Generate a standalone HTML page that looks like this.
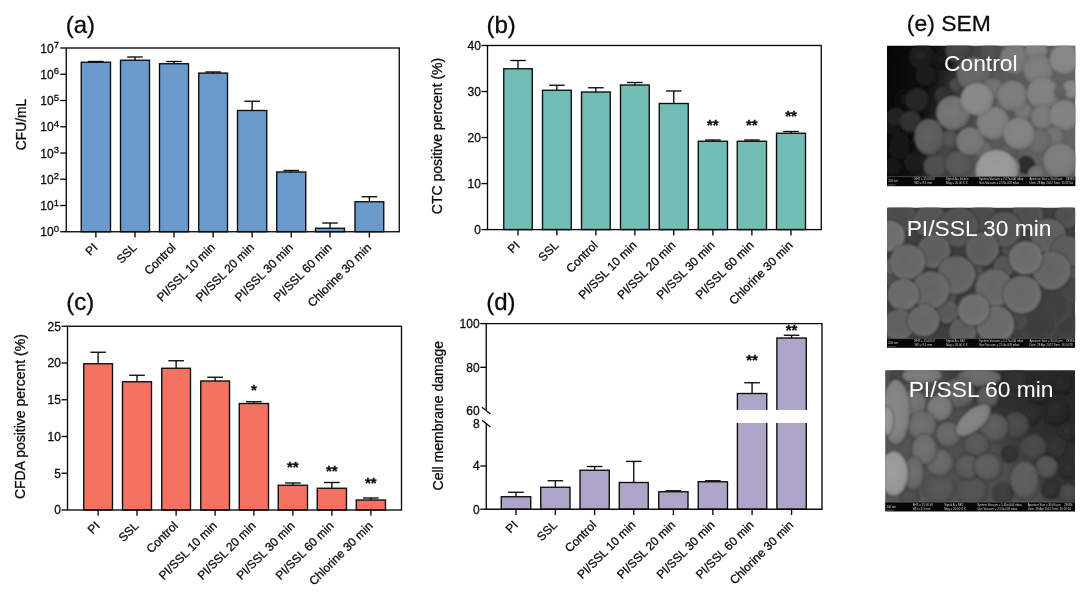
<!DOCTYPE html>
<html lang="en">
<head>
<meta charset="utf-8">
<title>Figure: PI/SSL disinfection results</title>
<style>
html,body{margin:0;padding:0;background:#fff;}
body{width:1080px;height:600px;overflow:hidden;}
svg{display:block;}
svg .semi text{font-size:2.9px;fill:#d8d8d8;stroke:none;}
svg text{font-family:"Liberation Sans", Arial, Helvetica, sans-serif;fill:#0a0a0a;stroke:#0a0a0a;stroke-width:0.28px;}
</style>
</head>
<body>
<svg width="1080" height="600" viewBox="0 0 1080 600">
<rect width="1080" height="600" fill="#fff"/>
<g id="chart-a">
<text x="65.7" y="32.6" font-size="24">(a)</text>
<line x1="95.88" y1="62.25" x2="95.88" y2="61.50" stroke="#0a0a0a" stroke-width="1.35"/>
<line x1="88.08" y1="61.50" x2="103.67" y2="61.50" stroke="#0a0a0a" stroke-width="1.35"/>
<rect x="81.25" y="62.25" width="29.25" height="169.50" fill="#6a9acb" stroke="#0a0a0a" stroke-width="1.35"/>
<line x1="135.00" y1="60.25" x2="135.00" y2="57.00" stroke="#0a0a0a" stroke-width="1.35"/>
<line x1="127.20" y1="57.00" x2="142.80" y2="57.00" stroke="#0a0a0a" stroke-width="1.35"/>
<rect x="120.50" y="60.25" width="29.00" height="171.50" fill="#6a9acb" stroke="#0a0a0a" stroke-width="1.35"/>
<line x1="174.00" y1="63.75" x2="174.00" y2="61.50" stroke="#0a0a0a" stroke-width="1.35"/>
<line x1="166.20" y1="61.50" x2="181.80" y2="61.50" stroke="#0a0a0a" stroke-width="1.35"/>
<rect x="159.50" y="63.75" width="29.00" height="168.00" fill="#6a9acb" stroke="#0a0a0a" stroke-width="1.35"/>
<line x1="213.12" y1="73.10" x2="213.12" y2="72.00" stroke="#0a0a0a" stroke-width="1.35"/>
<line x1="205.32" y1="72.00" x2="220.93" y2="72.00" stroke="#0a0a0a" stroke-width="1.35"/>
<rect x="198.75" y="73.10" width="28.75" height="158.65" fill="#6a9acb" stroke="#0a0a0a" stroke-width="1.35"/>
<line x1="252.12" y1="110.50" x2="252.12" y2="101.25" stroke="#0a0a0a" stroke-width="1.35"/>
<line x1="244.32" y1="101.25" x2="259.93" y2="101.25" stroke="#0a0a0a" stroke-width="1.35"/>
<rect x="237.50" y="110.50" width="29.25" height="121.25" fill="#6a9acb" stroke="#0a0a0a" stroke-width="1.35"/>
<line x1="291.25" y1="172.00" x2="291.25" y2="170.50" stroke="#0a0a0a" stroke-width="1.35"/>
<line x1="283.45" y1="170.50" x2="299.05" y2="170.50" stroke="#0a0a0a" stroke-width="1.35"/>
<rect x="276.75" y="172.00" width="29.00" height="59.75" fill="#6a9acb" stroke="#0a0a0a" stroke-width="1.35"/>
<line x1="330.00" y1="228.25" x2="330.00" y2="223.00" stroke="#0a0a0a" stroke-width="1.35"/>
<line x1="322.20" y1="223.00" x2="337.80" y2="223.00" stroke="#0a0a0a" stroke-width="1.35"/>
<rect x="315.50" y="228.25" width="29.00" height="3.50" fill="#6a9acb" stroke="#0a0a0a" stroke-width="1.35"/>
<line x1="369.38" y1="201.75" x2="369.38" y2="196.75" stroke="#0a0a0a" stroke-width="1.35"/>
<line x1="361.57" y1="196.75" x2="377.18" y2="196.75" stroke="#0a0a0a" stroke-width="1.35"/>
<rect x="355.00" y="201.75" width="28.75" height="30.00" fill="#6a9acb" stroke="#0a0a0a" stroke-width="1.35"/>
<rect x="66.25" y="48.0" width="333.0" height="183.75" fill="none" stroke="#0a0a0a" stroke-width="1.35"/>
<line x1="60.25" y1="231.75" x2="66.25" y2="231.75" stroke="#0a0a0a" stroke-width="1.35"/>
<text x="58.95" y="236.25" font-size="12" text-anchor="end">10<tspan font-size="9.5" dy="-4.3">0</tspan></text>
<line x1="60.25" y1="205.50" x2="66.25" y2="205.50" stroke="#0a0a0a" stroke-width="1.35"/>
<text x="58.95" y="210.00" font-size="12" text-anchor="end">10<tspan font-size="9.5" dy="-4.3">1</tspan></text>
<line x1="60.25" y1="179.25" x2="66.25" y2="179.25" stroke="#0a0a0a" stroke-width="1.35"/>
<text x="58.95" y="183.75" font-size="12" text-anchor="end">10<tspan font-size="9.5" dy="-4.3">2</tspan></text>
<line x1="60.25" y1="153.00" x2="66.25" y2="153.00" stroke="#0a0a0a" stroke-width="1.35"/>
<text x="58.95" y="157.50" font-size="12" text-anchor="end">10<tspan font-size="9.5" dy="-4.3">3</tspan></text>
<line x1="60.25" y1="126.75" x2="66.25" y2="126.75" stroke="#0a0a0a" stroke-width="1.35"/>
<text x="58.95" y="131.25" font-size="12" text-anchor="end">10<tspan font-size="9.5" dy="-4.3">4</tspan></text>
<line x1="60.25" y1="100.50" x2="66.25" y2="100.50" stroke="#0a0a0a" stroke-width="1.35"/>
<text x="58.95" y="105.00" font-size="12" text-anchor="end">10<tspan font-size="9.5" dy="-4.3">5</tspan></text>
<line x1="60.25" y1="74.25" x2="66.25" y2="74.25" stroke="#0a0a0a" stroke-width="1.35"/>
<text x="58.95" y="78.75" font-size="12" text-anchor="end">10<tspan font-size="9.5" dy="-4.3">6</tspan></text>
<line x1="60.25" y1="48.00" x2="66.25" y2="48.00" stroke="#0a0a0a" stroke-width="1.35"/>
<text x="58.95" y="52.50" font-size="12" text-anchor="end">10<tspan font-size="9.5" dy="-4.3">7</tspan></text>
<line x1="95.88" y1="231.75" x2="95.88" y2="237.55" stroke="#0a0a0a" stroke-width="1.35"/>
<text x="98.38" y="248.25" font-size="12" text-anchor="end" transform="rotate(-45 98.38 248.25)">PI</text>
<line x1="135.00" y1="231.75" x2="135.00" y2="237.55" stroke="#0a0a0a" stroke-width="1.35"/>
<text x="137.50" y="248.25" font-size="12" text-anchor="end" transform="rotate(-45 137.50 248.25)">SSL</text>
<line x1="174.00" y1="231.75" x2="174.00" y2="237.55" stroke="#0a0a0a" stroke-width="1.35"/>
<text x="176.50" y="248.25" font-size="12" text-anchor="end" transform="rotate(-45 176.50 248.25)">Control</text>
<line x1="213.12" y1="231.75" x2="213.12" y2="237.55" stroke="#0a0a0a" stroke-width="1.35"/>
<text x="215.62" y="248.25" font-size="12" text-anchor="end" transform="rotate(-45 215.62 248.25)">PI/SSL 10 min</text>
<line x1="252.12" y1="231.75" x2="252.12" y2="237.55" stroke="#0a0a0a" stroke-width="1.35"/>
<text x="254.62" y="248.25" font-size="12" text-anchor="end" transform="rotate(-45 254.62 248.25)">PI/SSL 20 min</text>
<line x1="291.25" y1="231.75" x2="291.25" y2="237.55" stroke="#0a0a0a" stroke-width="1.35"/>
<text x="293.75" y="248.25" font-size="12" text-anchor="end" transform="rotate(-45 293.75 248.25)">PI/SSL 30 min</text>
<line x1="330.00" y1="231.75" x2="330.00" y2="237.55" stroke="#0a0a0a" stroke-width="1.35"/>
<text x="332.50" y="248.25" font-size="12" text-anchor="end" transform="rotate(-45 332.50 248.25)">PI/SSL 60 min</text>
<line x1="369.38" y1="231.75" x2="369.38" y2="237.55" stroke="#0a0a0a" stroke-width="1.35"/>
<text x="371.88" y="248.25" font-size="12" text-anchor="end" transform="rotate(-45 371.88 248.25)">Chlorine 30 min</text>
<text x="25.5" y="124.5" font-size="13.8" text-anchor="middle" transform="rotate(-90 25.5 124.5)">CFU/mL</text>
</g>
<g id="chart-b">
<text x="486.5" y="33.2" font-size="24">(b)</text>
<line x1="518.00" y1="68.75" x2="518.00" y2="60.50" stroke="#0a0a0a" stroke-width="1.35"/>
<line x1="510.20" y1="60.50" x2="525.80" y2="60.50" stroke="#0a0a0a" stroke-width="1.35"/>
<rect x="503.75" y="68.75" width="28.50" height="160.85" fill="#72bcb6" stroke="#0a0a0a" stroke-width="1.35"/>
<line x1="556.88" y1="90.25" x2="556.88" y2="85.25" stroke="#0a0a0a" stroke-width="1.35"/>
<line x1="549.08" y1="85.25" x2="564.67" y2="85.25" stroke="#0a0a0a" stroke-width="1.35"/>
<rect x="542.50" y="90.25" width="28.75" height="139.35" fill="#72bcb6" stroke="#0a0a0a" stroke-width="1.35"/>
<line x1="595.88" y1="92.00" x2="595.88" y2="87.75" stroke="#0a0a0a" stroke-width="1.35"/>
<line x1="588.08" y1="87.75" x2="603.67" y2="87.75" stroke="#0a0a0a" stroke-width="1.35"/>
<rect x="581.50" y="92.00" width="28.75" height="137.60" fill="#72bcb6" stroke="#0a0a0a" stroke-width="1.35"/>
<line x1="634.88" y1="85.00" x2="634.88" y2="82.50" stroke="#0a0a0a" stroke-width="1.35"/>
<line x1="627.08" y1="82.50" x2="642.67" y2="82.50" stroke="#0a0a0a" stroke-width="1.35"/>
<rect x="620.50" y="85.00" width="28.75" height="144.60" fill="#72bcb6" stroke="#0a0a0a" stroke-width="1.35"/>
<line x1="673.75" y1="103.50" x2="673.75" y2="91.00" stroke="#0a0a0a" stroke-width="1.35"/>
<line x1="665.95" y1="91.00" x2="681.55" y2="91.00" stroke="#0a0a0a" stroke-width="1.35"/>
<rect x="659.25" y="103.50" width="29.00" height="126.10" fill="#72bcb6" stroke="#0a0a0a" stroke-width="1.35"/>
<line x1="712.88" y1="141.25" x2="712.88" y2="140.00" stroke="#0a0a0a" stroke-width="1.35"/>
<line x1="705.08" y1="140.00" x2="720.67" y2="140.00" stroke="#0a0a0a" stroke-width="1.35"/>
<rect x="698.25" y="141.25" width="29.25" height="88.35" fill="#72bcb6" stroke="#0a0a0a" stroke-width="1.35"/>
<line x1="751.88" y1="141.25" x2="751.88" y2="140.00" stroke="#0a0a0a" stroke-width="1.35"/>
<line x1="744.08" y1="140.00" x2="759.67" y2="140.00" stroke="#0a0a0a" stroke-width="1.35"/>
<rect x="737.25" y="141.25" width="29.25" height="88.35" fill="#72bcb6" stroke="#0a0a0a" stroke-width="1.35"/>
<line x1="791.00" y1="133.25" x2="791.00" y2="131.50" stroke="#0a0a0a" stroke-width="1.35"/>
<line x1="783.20" y1="131.50" x2="798.80" y2="131.50" stroke="#0a0a0a" stroke-width="1.35"/>
<rect x="776.50" y="133.25" width="29.00" height="96.35" fill="#72bcb6" stroke="#0a0a0a" stroke-width="1.35"/>
<rect x="487.5" y="45.5" width="333.75" height="184.1" fill="none" stroke="#0a0a0a" stroke-width="1.35"/>
<line x1="481.50" y1="45.50" x2="487.50" y2="45.50" stroke="#0a0a0a" stroke-width="1.35"/>
<text x="480.90" y="49.80" font-size="12" text-anchor="end">40</text>
<line x1="481.50" y1="91.53" x2="487.50" y2="91.53" stroke="#0a0a0a" stroke-width="1.35"/>
<text x="480.90" y="95.83" font-size="12" text-anchor="end">30</text>
<line x1="481.50" y1="137.55" x2="487.50" y2="137.55" stroke="#0a0a0a" stroke-width="1.35"/>
<text x="480.90" y="141.85" font-size="12" text-anchor="end">20</text>
<line x1="481.50" y1="183.57" x2="487.50" y2="183.57" stroke="#0a0a0a" stroke-width="1.35"/>
<text x="480.90" y="187.88" font-size="12" text-anchor="end">10</text>
<line x1="481.50" y1="229.60" x2="487.50" y2="229.60" stroke="#0a0a0a" stroke-width="1.35"/>
<text x="480.90" y="233.90" font-size="12" text-anchor="end">0</text>
<line x1="518.00" y1="229.60" x2="518.00" y2="235.40" stroke="#0a0a0a" stroke-width="1.35"/>
<text x="520.50" y="246.10" font-size="12" text-anchor="end" transform="rotate(-45 520.50 246.10)">PI</text>
<line x1="556.88" y1="229.60" x2="556.88" y2="235.40" stroke="#0a0a0a" stroke-width="1.35"/>
<text x="559.38" y="246.10" font-size="12" text-anchor="end" transform="rotate(-45 559.38 246.10)">SSL</text>
<line x1="595.88" y1="229.60" x2="595.88" y2="235.40" stroke="#0a0a0a" stroke-width="1.35"/>
<text x="598.38" y="246.10" font-size="12" text-anchor="end" transform="rotate(-45 598.38 246.10)">Control</text>
<line x1="634.88" y1="229.60" x2="634.88" y2="235.40" stroke="#0a0a0a" stroke-width="1.35"/>
<text x="637.38" y="246.10" font-size="12" text-anchor="end" transform="rotate(-45 637.38 246.10)">PI/SSL 10 min</text>
<line x1="673.75" y1="229.60" x2="673.75" y2="235.40" stroke="#0a0a0a" stroke-width="1.35"/>
<text x="676.25" y="246.10" font-size="12" text-anchor="end" transform="rotate(-45 676.25 246.10)">PI/SSL 20 min</text>
<line x1="712.88" y1="229.60" x2="712.88" y2="235.40" stroke="#0a0a0a" stroke-width="1.35"/>
<text x="715.38" y="246.10" font-size="12" text-anchor="end" transform="rotate(-45 715.38 246.10)">PI/SSL 30 min</text>
<line x1="751.88" y1="229.60" x2="751.88" y2="235.40" stroke="#0a0a0a" stroke-width="1.35"/>
<text x="754.38" y="246.10" font-size="12" text-anchor="end" transform="rotate(-45 754.38 246.10)">PI/SSL 60 min</text>
<line x1="791.00" y1="229.60" x2="791.00" y2="235.40" stroke="#0a0a0a" stroke-width="1.35"/>
<text x="793.50" y="246.10" font-size="12" text-anchor="end" transform="rotate(-45 793.50 246.10)">Chlorine 30 min</text>
<text x="442.2" y="136" font-size="14" text-anchor="middle" transform="rotate(-90 442.2 136)">CTC positive percent (%)</text>
<text x="712.88" y="129.60" font-size="15" font-weight="bold" text-anchor="middle">**</text>
<text x="751.88" y="129.60" font-size="15" font-weight="bold" text-anchor="middle">**</text>
<text x="791.00" y="121.40" font-size="15" font-weight="bold" text-anchor="middle">**</text>
</g>
<g id="chart-c">
<text x="66.2" y="310.0" font-size="24">(c)</text>
<line x1="98.12" y1="363.75" x2="98.12" y2="352.25" stroke="#0a0a0a" stroke-width="1.35"/>
<line x1="90.33" y1="352.25" x2="105.92" y2="352.25" stroke="#0a0a0a" stroke-width="1.35"/>
<rect x="83.75" y="363.75" width="28.75" height="146.25" fill="#f37261" stroke="#0a0a0a" stroke-width="1.35"/>
<line x1="137.00" y1="381.75" x2="137.00" y2="375.25" stroke="#0a0a0a" stroke-width="1.35"/>
<line x1="129.20" y1="375.25" x2="144.80" y2="375.25" stroke="#0a0a0a" stroke-width="1.35"/>
<rect x="122.50" y="381.75" width="29.00" height="128.25" fill="#f37261" stroke="#0a0a0a" stroke-width="1.35"/>
<line x1="176.12" y1="368.25" x2="176.12" y2="360.75" stroke="#0a0a0a" stroke-width="1.35"/>
<line x1="168.32" y1="360.75" x2="183.93" y2="360.75" stroke="#0a0a0a" stroke-width="1.35"/>
<rect x="161.75" y="368.25" width="28.75" height="141.75" fill="#f37261" stroke="#0a0a0a" stroke-width="1.35"/>
<line x1="215.12" y1="381.00" x2="215.12" y2="377.25" stroke="#0a0a0a" stroke-width="1.35"/>
<line x1="207.32" y1="377.25" x2="222.93" y2="377.25" stroke="#0a0a0a" stroke-width="1.35"/>
<rect x="200.75" y="381.00" width="28.75" height="129.00" fill="#f37261" stroke="#0a0a0a" stroke-width="1.35"/>
<line x1="253.88" y1="403.50" x2="253.88" y2="401.75" stroke="#0a0a0a" stroke-width="1.35"/>
<line x1="246.07" y1="401.75" x2="261.68" y2="401.75" stroke="#0a0a0a" stroke-width="1.35"/>
<rect x="239.25" y="403.50" width="29.25" height="106.50" fill="#f37261" stroke="#0a0a0a" stroke-width="1.35"/>
<line x1="292.88" y1="485.25" x2="292.88" y2="483.00" stroke="#0a0a0a" stroke-width="1.35"/>
<line x1="285.07" y1="483.00" x2="300.68" y2="483.00" stroke="#0a0a0a" stroke-width="1.35"/>
<rect x="278.25" y="485.25" width="29.25" height="24.75" fill="#f37261" stroke="#0a0a0a" stroke-width="1.35"/>
<line x1="331.88" y1="488.25" x2="331.88" y2="482.50" stroke="#0a0a0a" stroke-width="1.35"/>
<line x1="324.07" y1="482.50" x2="339.68" y2="482.50" stroke="#0a0a0a" stroke-width="1.35"/>
<rect x="317.25" y="488.25" width="29.25" height="21.75" fill="#f37261" stroke="#0a0a0a" stroke-width="1.35"/>
<line x1="370.88" y1="500.00" x2="370.88" y2="498.00" stroke="#0a0a0a" stroke-width="1.35"/>
<line x1="363.07" y1="498.00" x2="378.68" y2="498.00" stroke="#0a0a0a" stroke-width="1.35"/>
<rect x="356.25" y="500.00" width="29.25" height="10.00" fill="#f37261" stroke="#0a0a0a" stroke-width="1.35"/>
<rect x="67.5" y="326.25" width="334.0" height="183.75" fill="none" stroke="#0a0a0a" stroke-width="1.35"/>
<line x1="61.50" y1="326.25" x2="67.50" y2="326.25" stroke="#0a0a0a" stroke-width="1.35"/>
<text x="60.90" y="330.55" font-size="12" text-anchor="end">25</text>
<line x1="61.50" y1="363.00" x2="67.50" y2="363.00" stroke="#0a0a0a" stroke-width="1.35"/>
<text x="60.90" y="367.30" font-size="12" text-anchor="end">20</text>
<line x1="61.50" y1="399.75" x2="67.50" y2="399.75" stroke="#0a0a0a" stroke-width="1.35"/>
<text x="60.90" y="404.05" font-size="12" text-anchor="end">15</text>
<line x1="61.50" y1="436.50" x2="67.50" y2="436.50" stroke="#0a0a0a" stroke-width="1.35"/>
<text x="60.90" y="440.80" font-size="12" text-anchor="end">10</text>
<line x1="61.50" y1="473.25" x2="67.50" y2="473.25" stroke="#0a0a0a" stroke-width="1.35"/>
<text x="60.90" y="477.55" font-size="12" text-anchor="end">5</text>
<line x1="61.50" y1="510.00" x2="67.50" y2="510.00" stroke="#0a0a0a" stroke-width="1.35"/>
<text x="60.90" y="514.30" font-size="12" text-anchor="end">0</text>
<line x1="98.12" y1="510.00" x2="98.12" y2="515.80" stroke="#0a0a0a" stroke-width="1.35"/>
<text x="100.62" y="526.50" font-size="12" text-anchor="end" transform="rotate(-45 100.62 526.50)">PI</text>
<line x1="137.00" y1="510.00" x2="137.00" y2="515.80" stroke="#0a0a0a" stroke-width="1.35"/>
<text x="139.50" y="526.50" font-size="12" text-anchor="end" transform="rotate(-45 139.50 526.50)">SSL</text>
<line x1="176.12" y1="510.00" x2="176.12" y2="515.80" stroke="#0a0a0a" stroke-width="1.35"/>
<text x="178.62" y="526.50" font-size="12" text-anchor="end" transform="rotate(-45 178.62 526.50)">Control</text>
<line x1="215.12" y1="510.00" x2="215.12" y2="515.80" stroke="#0a0a0a" stroke-width="1.35"/>
<text x="217.62" y="526.50" font-size="12" text-anchor="end" transform="rotate(-45 217.62 526.50)">PI/SSL 10 min</text>
<line x1="253.88" y1="510.00" x2="253.88" y2="515.80" stroke="#0a0a0a" stroke-width="1.35"/>
<text x="256.38" y="526.50" font-size="12" text-anchor="end" transform="rotate(-45 256.38 526.50)">PI/SSL 20 min</text>
<line x1="292.88" y1="510.00" x2="292.88" y2="515.80" stroke="#0a0a0a" stroke-width="1.35"/>
<text x="295.38" y="526.50" font-size="12" text-anchor="end" transform="rotate(-45 295.38 526.50)">PI/SSL 30 min</text>
<line x1="331.88" y1="510.00" x2="331.88" y2="515.80" stroke="#0a0a0a" stroke-width="1.35"/>
<text x="334.38" y="526.50" font-size="12" text-anchor="end" transform="rotate(-45 334.38 526.50)">PI/SSL 60 min</text>
<line x1="370.88" y1="510.00" x2="370.88" y2="515.80" stroke="#0a0a0a" stroke-width="1.35"/>
<text x="373.38" y="526.50" font-size="12" text-anchor="end" transform="rotate(-45 373.38 526.50)">Chlorine 30 min</text>
<text x="25.2" y="416.6" font-size="14" text-anchor="middle" transform="rotate(-90 25.2 416.6)">CFDA positive percent (%)</text>
<text x="253.88" y="394.60" font-size="15" font-weight="bold" text-anchor="middle">*</text>
<text x="292.88" y="472.10" font-size="15" font-weight="bold" text-anchor="middle">**</text>
<text x="331.88" y="475.90" font-size="15" font-weight="bold" text-anchor="middle">**</text>
<text x="370.88" y="487.60" font-size="15" font-weight="bold" text-anchor="middle">**</text>
</g>
<g id="chart-d">
<text x="486.2" y="309.5" font-size="24">(d)</text>
<line x1="516.00" y1="496.75" x2="516.00" y2="492.25" stroke="#0a0a0a" stroke-width="1.35"/>
<line x1="508.20" y1="492.25" x2="523.80" y2="492.25" stroke="#0a0a0a" stroke-width="1.35"/>
<rect x="501.25" y="496.75" width="29.50" height="12.45" fill="#afa5c9" stroke="#0a0a0a" stroke-width="1.35"/>
<line x1="555.38" y1="487.25" x2="555.38" y2="480.75" stroke="#0a0a0a" stroke-width="1.35"/>
<line x1="547.58" y1="480.75" x2="563.17" y2="480.75" stroke="#0a0a0a" stroke-width="1.35"/>
<rect x="540.75" y="487.25" width="29.25" height="21.95" fill="#afa5c9" stroke="#0a0a0a" stroke-width="1.35"/>
<line x1="594.62" y1="470.25" x2="594.62" y2="466.50" stroke="#0a0a0a" stroke-width="1.35"/>
<line x1="586.83" y1="466.50" x2="602.42" y2="466.50" stroke="#0a0a0a" stroke-width="1.35"/>
<rect x="580.00" y="470.25" width="29.25" height="38.95" fill="#afa5c9" stroke="#0a0a0a" stroke-width="1.35"/>
<line x1="633.75" y1="482.50" x2="633.75" y2="461.40" stroke="#0a0a0a" stroke-width="1.35"/>
<line x1="625.95" y1="461.40" x2="641.55" y2="461.40" stroke="#0a0a0a" stroke-width="1.35"/>
<rect x="619.25" y="482.50" width="29.00" height="26.70" fill="#afa5c9" stroke="#0a0a0a" stroke-width="1.35"/>
<line x1="673.38" y1="491.75" x2="673.38" y2="490.75" stroke="#0a0a0a" stroke-width="1.35"/>
<line x1="665.58" y1="490.75" x2="681.17" y2="490.75" stroke="#0a0a0a" stroke-width="1.35"/>
<rect x="658.75" y="491.75" width="29.25" height="17.45" fill="#afa5c9" stroke="#0a0a0a" stroke-width="1.35"/>
<line x1="712.88" y1="481.75" x2="712.88" y2="480.75" stroke="#0a0a0a" stroke-width="1.35"/>
<line x1="705.08" y1="480.75" x2="720.67" y2="480.75" stroke="#0a0a0a" stroke-width="1.35"/>
<rect x="698.25" y="481.75" width="29.25" height="27.45" fill="#afa5c9" stroke="#0a0a0a" stroke-width="1.35"/>
<line x1="752.08" y1="393.50" x2="752.08" y2="382.75" stroke="#0a0a0a" stroke-width="1.35"/>
<line x1="744.28" y1="382.75" x2="759.88" y2="382.75" stroke="#0a0a0a" stroke-width="1.35"/>
<rect x="737.40" y="393.50" width="29.35" height="115.70" fill="#afa5c9" stroke="#0a0a0a" stroke-width="1.35"/>
<line x1="791.58" y1="338.00" x2="791.58" y2="335.25" stroke="#0a0a0a" stroke-width="1.35"/>
<line x1="783.78" y1="335.25" x2="799.38" y2="335.25" stroke="#0a0a0a" stroke-width="1.35"/>
<rect x="776.90" y="338.00" width="29.35" height="171.20" fill="#afa5c9" stroke="#0a0a0a" stroke-width="1.35"/>
<rect x="730" y="410" width="85" height="13" fill="#fff"/>
<path d="M486.25 410 V323.6 H822.0 V509.2 H486.25 V423.6" fill="none" stroke="#0a0a0a" stroke-width="1.35"/>
<path d="M482 407.2 L490.5 414 M482 420.2 L490.5 427" fill="none" stroke="#0a0a0a" stroke-width="1.35"/>
<line x1="480.25" y1="323.60" x2="486.25" y2="323.60" stroke="#0a0a0a" stroke-width="1.35"/>
<text x="479.65" y="327.90" font-size="12" text-anchor="end">100</text>
<line x1="480.25" y1="367.30" x2="486.25" y2="367.30" stroke="#0a0a0a" stroke-width="1.35"/>
<text x="479.65" y="371.60" font-size="12" text-anchor="end">80</text>
<line x1="480.25" y1="509.20" x2="486.25" y2="509.20" stroke="#0a0a0a" stroke-width="1.35"/>
<text x="479.65" y="513.50" font-size="12" text-anchor="end">0</text>
<line x1="480.25" y1="466.00" x2="486.25" y2="466.00" stroke="#0a0a0a" stroke-width="1.35"/>
<text x="479.65" y="470.30" font-size="12" text-anchor="end">4</text>
<text x="479.6" y="415" font-size="12" text-anchor="end">60</text>
<text x="479.6" y="427.6" font-size="12" text-anchor="end">8</text>
<line x1="516.00" y1="509.20" x2="516.00" y2="515.00" stroke="#0a0a0a" stroke-width="1.35"/>
<text x="518.50" y="525.70" font-size="12" text-anchor="end" transform="rotate(-45 518.50 525.70)">PI</text>
<line x1="555.38" y1="509.20" x2="555.38" y2="515.00" stroke="#0a0a0a" stroke-width="1.35"/>
<text x="557.88" y="525.70" font-size="12" text-anchor="end" transform="rotate(-45 557.88 525.70)">SSL</text>
<line x1="594.62" y1="509.20" x2="594.62" y2="515.00" stroke="#0a0a0a" stroke-width="1.35"/>
<text x="597.12" y="525.70" font-size="12" text-anchor="end" transform="rotate(-45 597.12 525.70)">Control</text>
<line x1="633.75" y1="509.20" x2="633.75" y2="515.00" stroke="#0a0a0a" stroke-width="1.35"/>
<text x="636.25" y="525.70" font-size="12" text-anchor="end" transform="rotate(-45 636.25 525.70)">PI/SSL 10 min</text>
<line x1="673.38" y1="509.20" x2="673.38" y2="515.00" stroke="#0a0a0a" stroke-width="1.35"/>
<text x="675.88" y="525.70" font-size="12" text-anchor="end" transform="rotate(-45 675.88 525.70)">PI/SSL 20 min</text>
<line x1="712.88" y1="509.20" x2="712.88" y2="515.00" stroke="#0a0a0a" stroke-width="1.35"/>
<text x="715.38" y="525.70" font-size="12" text-anchor="end" transform="rotate(-45 715.38 525.70)">PI/SSL 30 min</text>
<line x1="752.08" y1="509.20" x2="752.08" y2="515.00" stroke="#0a0a0a" stroke-width="1.35"/>
<text x="754.58" y="525.70" font-size="12" text-anchor="end" transform="rotate(-45 754.58 525.70)">PI/SSL 60 min</text>
<line x1="791.58" y1="509.20" x2="791.58" y2="515.00" stroke="#0a0a0a" stroke-width="1.35"/>
<text x="794.08" y="525.70" font-size="12" text-anchor="end" transform="rotate(-45 794.08 525.70)">Chlorine 30 min</text>
<text x="443.0" y="415.7" font-size="14" text-anchor="middle" transform="rotate(-90 443.0 415.7)">Cell membrane damage</text>
<text x="752.08" y="364.60" font-size="15" font-weight="bold" text-anchor="middle">**</text>
<text x="791.58" y="335.10" font-size="15" font-weight="bold" text-anchor="middle">**</text>
</g>
<g id="sem">
<text x="906.8" y="31.2" font-size="22.9">(e) SEM</text>
<defs><filter id="soft" x="-5%" y="-5%" width="110%" height="110%"><feGaussianBlur stdDeviation="0.95"/></filter>
<linearGradient id="bg1" x1="0" y1="0" x2="1" y2="0.15"><stop offset="0" stop-color="#050505"/><stop offset="0.25" stop-color="#101010"/><stop offset="0.45" stop-color="#404040"/><stop offset="0.6" stop-color="#585858"/><stop offset="1" stop-color="#646464"/></linearGradient>
<linearGradient id="bg3" x1="0" y1="0.75" x2="1" y2="0.1"><stop offset="0" stop-color="#585858"/><stop offset="0.5" stop-color="#4c4c4c"/><stop offset="0.66" stop-color="#303030"/><stop offset="1" stop-color="#262626"/></linearGradient>
<radialGradient id="ga30" cx="0.46" cy="0.44" r="0.56"><stop offset="0" stop-color="#212121"/><stop offset="0.7" stop-color="#1e1e1e"/><stop offset="1" stop-color="#121212"/></radialGradient><radialGradient id="ga24" cx="0.46" cy="0.44" r="0.56"><stop offset="0" stop-color="#1b1b1b"/><stop offset="0.7" stop-color="#181818"/><stop offset="1" stop-color="#0c0c0c"/></radialGradient><radialGradient id="ga26" cx="0.46" cy="0.44" r="0.56"><stop offset="0" stop-color="#1d1d1d"/><stop offset="0.7" stop-color="#1a1a1a"/><stop offset="1" stop-color="#0e0e0e"/></radialGradient><radialGradient id="ga16" cx="0.46" cy="0.44" r="0.56"><stop offset="0" stop-color="#131313"/><stop offset="0.7" stop-color="#101010"/><stop offset="1" stop-color="#040404"/></radialGradient><radialGradient id="ga20" cx="0.46" cy="0.44" r="0.56"><stop offset="0" stop-color="#171717"/><stop offset="0.7" stop-color="#141414"/><stop offset="1" stop-color="#080808"/></radialGradient><radialGradient id="ga18" cx="0.46" cy="0.44" r="0.56"><stop offset="0" stop-color="#151515"/><stop offset="0.7" stop-color="#121212"/><stop offset="1" stop-color="#060606"/></radialGradient><radialGradient id="ga22" cx="0.46" cy="0.44" r="0.56"><stop offset="0" stop-color="#191919"/><stop offset="0.7" stop-color="#161616"/><stop offset="1" stop-color="#0a0a0a"/></radialGradient><radialGradient id="ga28" cx="0.46" cy="0.44" r="0.56"><stop offset="0" stop-color="#1f1f1f"/><stop offset="0.7" stop-color="#1c1c1c"/><stop offset="1" stop-color="#101010"/></radialGradient><radialGradient id="ga38" cx="0.46" cy="0.44" r="0.56"><stop offset="0" stop-color="#292929"/><stop offset="0.7" stop-color="#262626"/><stop offset="1" stop-color="#1a1a1a"/></radialGradient><radialGradient id="ga48" cx="0.46" cy="0.44" r="0.56"><stop offset="0" stop-color="#333333"/><stop offset="0.7" stop-color="#303030"/><stop offset="1" stop-color="#242424"/></radialGradient><radialGradient id="ga32" cx="0.46" cy="0.44" r="0.56"><stop offset="0" stop-color="#232323"/><stop offset="0.7" stop-color="#202020"/><stop offset="1" stop-color="#141414"/></radialGradient><radialGradient id="ga72" cx="0.46" cy="0.44" r="0.56"><stop offset="0" stop-color="#4b4b4b"/><stop offset="0.7" stop-color="#484848"/><stop offset="1" stop-color="#3c3c3c"/></radialGradient><radialGradient id="ga68" cx="0.46" cy="0.44" r="0.56"><stop offset="0" stop-color="#474747"/><stop offset="0.7" stop-color="#444444"/><stop offset="1" stop-color="#383838"/></radialGradient><radialGradient id="ga102" cx="0.46" cy="0.44" r="0.56"><stop offset="0" stop-color="#696969"/><stop offset="0.7" stop-color="#666666"/><stop offset="1" stop-color="#5a5a5a"/></radialGradient><radialGradient id="ga80" cx="0.46" cy="0.44" r="0.56"><stop offset="0" stop-color="#535353"/><stop offset="0.7" stop-color="#505050"/><stop offset="1" stop-color="#444444"/></radialGradient><radialGradient id="ga112" cx="0.46" cy="0.44" r="0.56"><stop offset="0" stop-color="#737373"/><stop offset="0.7" stop-color="#707070"/><stop offset="1" stop-color="#646464"/></radialGradient><radialGradient id="ga70" cx="0.46" cy="0.44" r="0.56"><stop offset="0" stop-color="#494949"/><stop offset="0.7" stop-color="#464646"/><stop offset="1" stop-color="#3a3a3a"/></radialGradient><radialGradient id="ga108" cx="0.46" cy="0.44" r="0.56"><stop offset="0" stop-color="#6f6f6f"/><stop offset="0.7" stop-color="#6c6c6c"/><stop offset="1" stop-color="#606060"/></radialGradient><radialGradient id="ga104" cx="0.46" cy="0.44" r="0.56"><stop offset="0" stop-color="#6b6b6b"/><stop offset="0.7" stop-color="#686868"/><stop offset="1" stop-color="#5c5c5c"/></radialGradient><radialGradient id="ga44" cx="0.46" cy="0.44" r="0.56"><stop offset="0" stop-color="#2f2f2f"/><stop offset="0.7" stop-color="#2c2c2c"/><stop offset="1" stop-color="#202020"/></radialGradient><radialGradient id="ga120" cx="0.46" cy="0.44" r="0.56"><stop offset="0" stop-color="#7b7b7b"/><stop offset="0.7" stop-color="#787878"/><stop offset="1" stop-color="#6c6c6c"/></radialGradient><radialGradient id="ga128" cx="0.46" cy="0.44" r="0.56"><stop offset="0" stop-color="#838383"/><stop offset="0.7" stop-color="#808080"/><stop offset="1" stop-color="#747474"/></radialGradient><radialGradient id="ga124" cx="0.46" cy="0.44" r="0.56"><stop offset="0" stop-color="#7f7f7f"/><stop offset="0.7" stop-color="#7c7c7c"/><stop offset="1" stop-color="#707070"/></radialGradient><radialGradient id="ga134" cx="0.46" cy="0.44" r="0.56"><stop offset="0" stop-color="#898989"/><stop offset="0.7" stop-color="#868686"/><stop offset="1" stop-color="#7a7a7a"/></radialGradient><radialGradient id="ga118" cx="0.46" cy="0.44" r="0.56"><stop offset="0" stop-color="#797979"/><stop offset="0.7" stop-color="#767676"/><stop offset="1" stop-color="#6a6a6a"/></radialGradient><radialGradient id="ga96" cx="0.46" cy="0.44" r="0.56"><stop offset="0" stop-color="#636363"/><stop offset="0.7" stop-color="#606060"/><stop offset="1" stop-color="#545454"/></radialGradient><radialGradient id="ga122" cx="0.46" cy="0.44" r="0.56"><stop offset="0" stop-color="#7d7d7d"/><stop offset="0.7" stop-color="#7a7a7a"/><stop offset="1" stop-color="#6e6e6e"/></radialGradient><radialGradient id="ga130" cx="0.46" cy="0.44" r="0.56"><stop offset="0" stop-color="#858585"/><stop offset="0.7" stop-color="#828282"/><stop offset="1" stop-color="#767676"/></radialGradient><radialGradient id="ga114" cx="0.46" cy="0.44" r="0.56"><stop offset="0" stop-color="#757575"/><stop offset="0.7" stop-color="#727272"/><stop offset="1" stop-color="#666666"/></radialGradient><radialGradient id="ga92" cx="0.46" cy="0.44" r="0.56"><stop offset="0" stop-color="#5f5f5f"/><stop offset="0.7" stop-color="#5c5c5c"/><stop offset="1" stop-color="#505050"/></radialGradient><radialGradient id="ga84" cx="0.46" cy="0.44" r="0.56"><stop offset="0" stop-color="#575757"/><stop offset="0.7" stop-color="#545454"/><stop offset="1" stop-color="#484848"/></radialGradient><radialGradient id="ga78" cx="0.46" cy="0.44" r="0.56"><stop offset="0" stop-color="#515151"/><stop offset="0.7" stop-color="#4e4e4e"/><stop offset="1" stop-color="#424242"/></radialGradient><radialGradient id="ga88" cx="0.46" cy="0.44" r="0.56"><stop offset="0" stop-color="#5b5b5b"/><stop offset="0.7" stop-color="#585858"/><stop offset="1" stop-color="#4c4c4c"/></radialGradient><radialGradient id="ga136" cx="0.46" cy="0.44" r="0.56"><stop offset="0" stop-color="#8b8b8b"/><stop offset="0.7" stop-color="#888888"/><stop offset="1" stop-color="#7c7c7c"/></radialGradient><radialGradient id="ga152" cx="0.46" cy="0.44" r="0.56"><stop offset="0" stop-color="#9b9b9b"/><stop offset="0.7" stop-color="#989898"/><stop offset="1" stop-color="#8c8c8c"/></radialGradient><radialGradient id="gb81" cx="0.46" cy="0.44" r="0.56"><stop offset="0" stop-color="#4f4f4f"/><stop offset="0.7" stop-color="#515151"/><stop offset="0.9" stop-color="#585858"/><stop offset="1" stop-color="#4d4d4d"/></radialGradient><radialGradient id="gb79" cx="0.46" cy="0.44" r="0.56"><stop offset="0" stop-color="#4d4d4d"/><stop offset="0.7" stop-color="#4f4f4f"/><stop offset="0.9" stop-color="#565656"/><stop offset="1" stop-color="#4b4b4b"/></radialGradient><radialGradient id="gb83" cx="0.46" cy="0.44" r="0.56"><stop offset="0" stop-color="#515151"/><stop offset="0.7" stop-color="#535353"/><stop offset="0.9" stop-color="#5a5a5a"/><stop offset="1" stop-color="#4f4f4f"/></radialGradient><radialGradient id="gb87" cx="0.46" cy="0.44" r="0.56"><stop offset="0" stop-color="#555555"/><stop offset="0.7" stop-color="#575757"/><stop offset="0.9" stop-color="#5e5e5e"/><stop offset="1" stop-color="#535353"/></radialGradient><radialGradient id="gb86" cx="0.46" cy="0.44" r="0.56"><stop offset="0" stop-color="#545454"/><stop offset="0.7" stop-color="#565656"/><stop offset="0.9" stop-color="#5d5d5d"/><stop offset="1" stop-color="#525252"/></radialGradient><radialGradient id="gb77" cx="0.46" cy="0.44" r="0.56"><stop offset="0" stop-color="#4b4b4b"/><stop offset="0.7" stop-color="#4d4d4d"/><stop offset="0.9" stop-color="#545454"/><stop offset="1" stop-color="#494949"/></radialGradient><radialGradient id="gb82" cx="0.46" cy="0.44" r="0.56"><stop offset="0" stop-color="#505050"/><stop offset="0.7" stop-color="#525252"/><stop offset="0.9" stop-color="#595959"/><stop offset="1" stop-color="#4e4e4e"/></radialGradient><radialGradient id="gb80" cx="0.46" cy="0.44" r="0.56"><stop offset="0" stop-color="#4e4e4e"/><stop offset="0.7" stop-color="#505050"/><stop offset="0.9" stop-color="#575757"/><stop offset="1" stop-color="#4c4c4c"/></radialGradient><radialGradient id="gb96" cx="0.46" cy="0.44" r="0.56"><stop offset="0" stop-color="#5e5e5e"/><stop offset="0.7" stop-color="#606060"/><stop offset="0.9" stop-color="#676767"/><stop offset="1" stop-color="#5c5c5c"/></radialGradient><radialGradient id="gb93" cx="0.46" cy="0.44" r="0.56"><stop offset="0" stop-color="#5b5b5b"/><stop offset="0.7" stop-color="#5d5d5d"/><stop offset="0.9" stop-color="#646464"/><stop offset="1" stop-color="#595959"/></radialGradient><radialGradient id="gb70" cx="0.46" cy="0.44" r="0.56"><stop offset="0" stop-color="#444444"/><stop offset="0.7" stop-color="#464646"/><stop offset="0.9" stop-color="#4d4d4d"/><stop offset="1" stop-color="#424242"/></radialGradient><radialGradient id="gb63" cx="0.46" cy="0.44" r="0.56"><stop offset="0" stop-color="#3d3d3d"/><stop offset="0.7" stop-color="#3f3f3f"/><stop offset="0.9" stop-color="#464646"/><stop offset="1" stop-color="#3b3b3b"/></radialGradient><radialGradient id="gb65" cx="0.46" cy="0.44" r="0.56"><stop offset="0" stop-color="#3f3f3f"/><stop offset="0.7" stop-color="#414141"/><stop offset="0.9" stop-color="#484848"/><stop offset="1" stop-color="#3d3d3d"/></radialGradient><radialGradient id="gb74" cx="0.46" cy="0.44" r="0.56"><stop offset="0" stop-color="#484848"/><stop offset="0.7" stop-color="#4a4a4a"/><stop offset="0.9" stop-color="#515151"/><stop offset="1" stop-color="#464646"/></radialGradient><radialGradient id="gb94" cx="0.46" cy="0.44" r="0.56"><stop offset="0" stop-color="#5c5c5c"/><stop offset="0.7" stop-color="#5e5e5e"/><stop offset="0.9" stop-color="#656565"/><stop offset="1" stop-color="#5a5a5a"/></radialGradient><radialGradient id="gb102" cx="0.46" cy="0.44" r="0.56"><stop offset="0" stop-color="#646464"/><stop offset="0.7" stop-color="#666666"/><stop offset="0.9" stop-color="#6d6d6d"/><stop offset="1" stop-color="#626262"/></radialGradient><radialGradient id="gb111" cx="0.46" cy="0.44" r="0.56"><stop offset="0" stop-color="#6d6d6d"/><stop offset="0.7" stop-color="#6f6f6f"/><stop offset="0.9" stop-color="#767676"/><stop offset="1" stop-color="#6b6b6b"/></radialGradient><radialGradient id="gb104" cx="0.46" cy="0.44" r="0.56"><stop offset="0" stop-color="#666666"/><stop offset="0.7" stop-color="#686868"/><stop offset="0.9" stop-color="#6f6f6f"/><stop offset="1" stop-color="#646464"/></radialGradient><radialGradient id="gb91" cx="0.46" cy="0.44" r="0.56"><stop offset="0" stop-color="#595959"/><stop offset="0.7" stop-color="#5b5b5b"/><stop offset="0.9" stop-color="#626262"/><stop offset="1" stop-color="#575757"/></radialGradient><radialGradient id="gb100" cx="0.46" cy="0.44" r="0.56"><stop offset="0" stop-color="#626262"/><stop offset="0.7" stop-color="#646464"/><stop offset="0.9" stop-color="#6b6b6b"/><stop offset="1" stop-color="#606060"/></radialGradient><radialGradient id="gb107" cx="0.46" cy="0.44" r="0.56"><stop offset="0" stop-color="#696969"/><stop offset="0.7" stop-color="#6b6b6b"/><stop offset="0.9" stop-color="#727272"/><stop offset="1" stop-color="#676767"/></radialGradient><radialGradient id="gb98" cx="0.46" cy="0.44" r="0.56"><stop offset="0" stop-color="#606060"/><stop offset="0.7" stop-color="#626262"/><stop offset="0.9" stop-color="#696969"/><stop offset="1" stop-color="#5e5e5e"/></radialGradient><radialGradient id="gb106" cx="0.46" cy="0.44" r="0.56"><stop offset="0" stop-color="#686868"/><stop offset="0.7" stop-color="#6a6a6a"/><stop offset="0.9" stop-color="#717171"/><stop offset="1" stop-color="#666666"/></radialGradient><radialGradient id="gb109" cx="0.46" cy="0.44" r="0.56"><stop offset="0" stop-color="#6b6b6b"/><stop offset="0.7" stop-color="#6d6d6d"/><stop offset="0.9" stop-color="#747474"/><stop offset="1" stop-color="#696969"/></radialGradient><radialGradient id="gc46" cx="0.46" cy="0.44" r="0.56"><stop offset="0" stop-color="#343434"/><stop offset="0.75" stop-color="#2e2e2e"/><stop offset="1" stop-color="#202020"/></radialGradient><radialGradient id="gc40" cx="0.46" cy="0.44" r="0.56"><stop offset="0" stop-color="#2e2e2e"/><stop offset="0.75" stop-color="#282828"/><stop offset="1" stop-color="#1a1a1a"/></radialGradient><radialGradient id="gc36" cx="0.46" cy="0.44" r="0.56"><stop offset="0" stop-color="#2a2a2a"/><stop offset="0.75" stop-color="#242424"/><stop offset="1" stop-color="#161616"/></radialGradient><radialGradient id="gc38" cx="0.46" cy="0.44" r="0.56"><stop offset="0" stop-color="#2c2c2c"/><stop offset="0.75" stop-color="#262626"/><stop offset="1" stop-color="#181818"/></radialGradient><radialGradient id="gc43" cx="0.46" cy="0.44" r="0.56"><stop offset="0" stop-color="#313131"/><stop offset="0.75" stop-color="#2b2b2b"/><stop offset="1" stop-color="#1d1d1d"/></radialGradient><radialGradient id="gc41" cx="0.46" cy="0.44" r="0.56"><stop offset="0" stop-color="#2f2f2f"/><stop offset="0.75" stop-color="#292929"/><stop offset="1" stop-color="#1b1b1b"/></radialGradient><radialGradient id="gc48" cx="0.46" cy="0.44" r="0.56"><stop offset="0" stop-color="#363636"/><stop offset="0.75" stop-color="#303030"/><stop offset="1" stop-color="#222222"/></radialGradient><radialGradient id="gc60" cx="0.46" cy="0.44" r="0.56"><stop offset="0" stop-color="#424242"/><stop offset="0.75" stop-color="#3c3c3c"/><stop offset="1" stop-color="#2e2e2e"/></radialGradient><radialGradient id="gc72" cx="0.46" cy="0.44" r="0.56"><stop offset="0" stop-color="#4e4e4e"/><stop offset="0.75" stop-color="#484848"/><stop offset="1" stop-color="#3a3a3a"/></radialGradient><radialGradient id="gc49" cx="0.46" cy="0.44" r="0.56"><stop offset="0" stop-color="#373737"/><stop offset="0.75" stop-color="#313131"/><stop offset="1" stop-color="#232323"/></radialGradient><radialGradient id="gc68" cx="0.46" cy="0.44" r="0.56"><stop offset="0" stop-color="#4a4a4a"/><stop offset="0.75" stop-color="#444444"/><stop offset="1" stop-color="#363636"/></radialGradient><radialGradient id="gc119" cx="0.46" cy="0.44" r="0.56"><stop offset="0" stop-color="#7d7d7d"/><stop offset="0.75" stop-color="#777777"/><stop offset="1" stop-color="#696969"/></radialGradient><radialGradient id="gc104" cx="0.46" cy="0.44" r="0.56"><stop offset="0" stop-color="#6e6e6e"/><stop offset="0.75" stop-color="#686868"/><stop offset="1" stop-color="#5a5a5a"/></radialGradient><radialGradient id="gc96" cx="0.46" cy="0.44" r="0.56"><stop offset="0" stop-color="#666666"/><stop offset="0.75" stop-color="#606060"/><stop offset="1" stop-color="#525252"/></radialGradient><radialGradient id="gc89" cx="0.46" cy="0.44" r="0.56"><stop offset="0" stop-color="#5f5f5f"/><stop offset="0.75" stop-color="#595959"/><stop offset="1" stop-color="#4b4b4b"/></radialGradient><radialGradient id="gc70" cx="0.46" cy="0.44" r="0.56"><stop offset="0" stop-color="#4c4c4c"/><stop offset="0.75" stop-color="#464646"/><stop offset="1" stop-color="#383838"/></radialGradient><radialGradient id="gc83" cx="0.46" cy="0.44" r="0.56"><stop offset="0" stop-color="#595959"/><stop offset="0.75" stop-color="#535353"/><stop offset="1" stop-color="#454545"/></radialGradient><radialGradient id="gc111" cx="0.46" cy="0.44" r="0.56"><stop offset="0" stop-color="#757575"/><stop offset="0.75" stop-color="#6f6f6f"/><stop offset="1" stop-color="#616161"/></radialGradient><radialGradient id="gc107" cx="0.46" cy="0.44" r="0.56"><stop offset="0" stop-color="#717171"/><stop offset="0.75" stop-color="#6b6b6b"/><stop offset="1" stop-color="#5d5d5d"/></radialGradient><radialGradient id="gc102" cx="0.46" cy="0.44" r="0.56"><stop offset="0" stop-color="#6c6c6c"/><stop offset="0.75" stop-color="#666666"/><stop offset="1" stop-color="#585858"/></radialGradient><radialGradient id="gc86" cx="0.46" cy="0.44" r="0.56"><stop offset="0" stop-color="#5c5c5c"/><stop offset="0.75" stop-color="#565656"/><stop offset="1" stop-color="#484848"/></radialGradient><radialGradient id="gc76" cx="0.46" cy="0.44" r="0.56"><stop offset="0" stop-color="#525252"/><stop offset="0.75" stop-color="#4c4c4c"/><stop offset="1" stop-color="#3e3e3e"/></radialGradient><radialGradient id="gc84" cx="0.46" cy="0.44" r="0.56"><stop offset="0" stop-color="#5a5a5a"/><stop offset="0.75" stop-color="#545454"/><stop offset="1" stop-color="#464646"/></radialGradient><radialGradient id="gc81" cx="0.46" cy="0.44" r="0.56"><stop offset="0" stop-color="#575757"/><stop offset="0.75" stop-color="#515151"/><stop offset="1" stop-color="#434343"/></radialGradient><radialGradient id="gc92" cx="0.46" cy="0.44" r="0.56"><stop offset="0" stop-color="#626262"/><stop offset="0.75" stop-color="#5c5c5c"/><stop offset="1" stop-color="#4e4e4e"/></radialGradient><radialGradient id="gc108" cx="0.46" cy="0.44" r="0.56"><stop offset="0" stop-color="#727272"/><stop offset="0.75" stop-color="#6c6c6c"/><stop offset="1" stop-color="#5e5e5e"/></radialGradient><radialGradient id="gc105" cx="0.46" cy="0.44" r="0.56"><stop offset="0" stop-color="#6f6f6f"/><stop offset="0.75" stop-color="#696969"/><stop offset="1" stop-color="#5b5b5b"/></radialGradient><radialGradient id="gc130" cx="0.46" cy="0.44" r="0.56"><stop offset="0" stop-color="#888888"/><stop offset="0.75" stop-color="#828282"/><stop offset="1" stop-color="#747474"/></radialGradient><radialGradient id="gc148" cx="0.46" cy="0.44" r="0.56"><stop offset="0" stop-color="#9a9a9a"/><stop offset="0.75" stop-color="#949494"/><stop offset="1" stop-color="#868686"/></radialGradient><radialGradient id="gc128" cx="0.46" cy="0.44" r="0.56"><stop offset="0" stop-color="#868686"/><stop offset="0.75" stop-color="#808080"/><stop offset="1" stop-color="#727272"/></radialGradient><radialGradient id="gc152" cx="0.46" cy="0.44" r="0.56"><stop offset="0" stop-color="#9e9e9e"/><stop offset="0.75" stop-color="#989898"/><stop offset="1" stop-color="#8a8a8a"/></radialGradient>
</defs>
<clipPath id="clip1"><rect x="887" y="45.5" width="188.5" height="140.8"/></clipPath>
<g clip-path="url(#clip1)">
<rect x="887" y="45.5" width="188.5" height="141" fill="url(#bg1)"/>
<g filter="url(#soft)"><ellipse cx="921.7" cy="56.8" rx="13" ry="13" fill="url(#ga30)"/><ellipse cx="943.7" cy="60" rx="10" ry="10" fill="url(#ga24)"/><ellipse cx="926" cy="76.3" rx="11" ry="11" fill="url(#ga26)"/><ellipse cx="905" cy="100" rx="11" ry="11" fill="url(#ga16)"/><ellipse cx="893.7" cy="126.5" rx="10" ry="10" fill="url(#ga20)"/><ellipse cx="901" cy="142.7" rx="11" ry="11" fill="url(#ga18)"/><ellipse cx="900" cy="150" rx="11" ry="11" fill="url(#ga22)"/><ellipse cx="893.5" cy="167.3" rx="10" ry="10" fill="url(#ga18)"/><ellipse cx="915.2" cy="163" rx="11" ry="11" fill="url(#ga28)"/><ellipse cx="917.3" cy="100.1" rx="12" ry="12" fill="url(#ga38)"/><ellipse cx="943.3" cy="95.8" rx="9" ry="9" fill="url(#ga48)"/><ellipse cx="895.7" cy="117.5" rx="10" ry="10" fill="url(#ga32)"/><ellipse cx="910.8" cy="121.8" rx="11" ry="11" fill="url(#ga48)"/><ellipse cx="956.3" cy="85" rx="7" ry="7" fill="url(#ga72)"/><ellipse cx="958.5" cy="50.3" rx="13" ry="13" fill="url(#ga68)"/><ellipse cx="973.6" cy="74.2" rx="19.2" ry="19.2" fill="#000" opacity="0.07"/><ellipse cx="973.6" cy="74.2" rx="17" ry="17" fill="url(#ga102)"/><ellipse cx="990" cy="52" rx="12.2" ry="12.2" fill="#000" opacity="0.07"/><ellipse cx="990" cy="52" rx="10" ry="10" fill="url(#ga80)"/><ellipse cx="993.1" cy="89.3" rx="13.2" ry="13.2" fill="#000" opacity="0.07"/><ellipse cx="993.1" cy="89.3" rx="11" ry="11" fill="url(#ga112)"/><ellipse cx="947" cy="152" rx="9" ry="9" fill="url(#ga70)"/><ellipse cx="983" cy="150" rx="11.2" ry="11.2" fill="#000" opacity="0.07"/><ellipse cx="983" cy="150" rx="9" ry="9" fill="url(#ga108)"/><ellipse cx="1003" cy="108" rx="10.2" ry="10.2" fill="#000" opacity="0.07"/><ellipse cx="1003" cy="108" rx="8" ry="8" fill="url(#ga104)"/><ellipse cx="1026" cy="165" rx="9" ry="9" fill="url(#ga44)"/><ellipse cx="1014.8" cy="59" rx="17.2" ry="17.2" fill="#000" opacity="0.07"/><ellipse cx="1014.8" cy="59" rx="15" ry="15" fill="url(#ga120)"/><ellipse cx="1036.4" cy="50.3" rx="13.2" ry="13.2" fill="#000" opacity="0.07"/><ellipse cx="1036.4" cy="50.3" rx="11" ry="11" fill="url(#ga128)"/><ellipse cx="1038.6" cy="69.8" rx="17.2" ry="17.2" fill="#000" opacity="0.07"/><ellipse cx="1038.6" cy="69.8" rx="15" ry="15" fill="url(#ga124)"/><ellipse cx="1064.6" cy="59" rx="17.2" ry="17.2" fill="#000" opacity="0.07"/><ellipse cx="1064.6" cy="59" rx="15" ry="15" fill="url(#ga134)"/><ellipse cx="1071.1" cy="89.3" rx="11.2" ry="11.2" fill="#000" opacity="0.07"/><ellipse cx="1071.1" cy="89.3" rx="9" ry="9" fill="url(#ga134)"/><ellipse cx="1023.5" cy="111" rx="11.2" ry="11.2" fill="#000" opacity="0.07"/><ellipse cx="1023.5" cy="111" rx="9" ry="9" fill="url(#ga118)"/><ellipse cx="1012.6" cy="95.8" rx="17.2" ry="17.2" fill="#000" opacity="0.07"/><ellipse cx="1012.6" cy="95.8" rx="15" ry="15" fill="url(#ga124)"/><ellipse cx="1042.9" cy="93.6" rx="18.2" ry="18.2" fill="#000" opacity="0.07"/><ellipse cx="1042.9" cy="93.6" rx="16" ry="16" fill="url(#ga128)"/><ellipse cx="1060" cy="92" rx="8.2" ry="8.2" fill="#000" opacity="0.07"/><ellipse cx="1060" cy="92" rx="6" ry="6" fill="url(#ga96)"/><ellipse cx="1042.9" cy="117.5" rx="14.2" ry="14.2" fill="#000" opacity="0.07"/><ellipse cx="1042.9" cy="117.5" rx="12" ry="12" fill="url(#ga122)"/><ellipse cx="1064.6" cy="115.3" rx="17.2" ry="17.2" fill="#000" opacity="0.07"/><ellipse cx="1064.6" cy="115.3" rx="15" ry="15" fill="url(#ga130)"/><ellipse cx="1053.8" cy="137" rx="12.2" ry="12.2" fill="#000" opacity="0.07"/><ellipse cx="1053.8" cy="137" rx="10" ry="10" fill="url(#ga114)"/><ellipse cx="1038.6" cy="141.3" rx="14.2" ry="14.2" fill="#000" opacity="0.07"/><ellipse cx="1038.6" cy="141.3" rx="12" ry="12" fill="url(#ga108)"/><ellipse cx="1008.3" cy="152.1" rx="11.2" ry="11.2" fill="#000" opacity="0.07"/><ellipse cx="1008.3" cy="152.1" rx="9" ry="9" fill="url(#ga92)"/><ellipse cx="1036" cy="174" rx="10.2" ry="10.2" fill="#000" opacity="0.07"/><ellipse cx="1036" cy="174" rx="8" ry="8" fill="url(#ga112)"/><ellipse cx="1060.3" cy="160.8" rx="19.2" ry="19.2" fill="#000" opacity="0.07"/><ellipse cx="1060.3" cy="160.8" rx="17" ry="17" fill="url(#ga124)"/><ellipse cx="949.8" cy="139.1" rx="11.2" ry="11.2" fill="#000" opacity="0.07"/><ellipse cx="949.8" cy="139.1" rx="9" ry="9" fill="url(#ga84)"/><ellipse cx="935.7" cy="166.2" rx="12" ry="12" fill="url(#ga78)"/><ellipse cx="958.5" cy="164" rx="15.2" ry="15.2" fill="#000" opacity="0.07"/><ellipse cx="958.5" cy="164" rx="13" ry="13" fill="url(#ga88)"/><ellipse cx="953.1" cy="113.1" rx="19.2" ry="19.2" fill="#000" opacity="0.07"/><ellipse cx="953.1" cy="113.1" rx="17" ry="17" fill="url(#ga114)"/><ellipse cx="929.2" cy="137" rx="17.2" ry="20.2" fill="#000" opacity="0.07"/><ellipse cx="929.2" cy="137" rx="15" ry="18" fill="url(#ga92)"/><ellipse cx="970.4" cy="141.3" rx="16.2" ry="16.2" fill="#000" opacity="0.07"/><ellipse cx="970.4" cy="141.3" rx="14" ry="14" fill="url(#ga118)"/><ellipse cx="993.1" cy="122.9" rx="18.4" ry="18.4" fill="#000" opacity="0.07"/><ellipse cx="993.1" cy="122.9" rx="16.2" ry="16.2" fill="url(#ga128)"/><ellipse cx="976.9" cy="99.1" rx="18.4" ry="18.4" fill="#000" opacity="0.07"/><ellipse cx="976.9" cy="99.1" rx="16.2" ry="16.2" fill="url(#ga136)"/><ellipse cx="1019.1" cy="133.7" rx="17.8" ry="17.8" fill="#000" opacity="0.07"/><ellipse cx="1019.1" cy="133.7" rx="15.6" ry="15.6" fill="url(#ga130)"/><ellipse cx="1008" cy="168" rx="14.2" ry="14.2" fill="#000" opacity="0.07"/><ellipse cx="1008" cy="168" rx="12" ry="12" fill="url(#ga122)"/><ellipse cx="996.5" cy="171" rx="23.2" ry="23.2" fill="#000" opacity="0.07"/><ellipse cx="996.5" cy="171" rx="21" ry="21" fill="url(#ga152)"/></g>
<rect x="887" y="176.5" width="188.5" height="9.8" fill="#060606"/>
<line x1="887" y1="176.7" x2="1075.5" y2="176.7" stroke="#9a9a9a" stroke-width="0.4"/>
<g class="semi">
<text x="914.5" y="180.1">EHT = 15.00 kV</text><text x="914.5" y="184.2">WD = 9.1 mm</text>
<text x="946" y="180.1">Signal A = InLens</text><text x="946" y="184.2">Mag = 20.00 K X</text>
<text x="979" y="180.1">System Vacuum = 7.07e-006 mbar</text><text x="979" y="184.2">Gun Vacuum = 2.59e-009 mbar</text>
<text x="1029.5" y="180.1">Aperture Size = 30.00 µm</text><text x="1029.5" y="184.2">Date: 28 Apr 2022  Time: 15:52:54</text>
<text x="888.2" y="182.1">200 nm</text>
<text x="1066" y="180.1">ZEISS</text>
<line x1="887.8" y1="184.9" x2="895.6" y2="184.9" stroke="#3c9a3c" stroke-width="0.7"/>
</g>
</g>
<text x="980.75" y="71.3" font-size="22.8" text-anchor="middle" style="fill:#fff;stroke:none">Control</text>
<clipPath id="clip2"><rect x="887" y="207.5" width="188.2" height="140.3"/></clipPath>
<g clip-path="url(#clip2)">
<rect x="887" y="207.5" width="188.2" height="141" fill="#3e3e3e"/>
<g filter="url(#soft)"><ellipse cx="973.6" cy="270.8" rx="11.600000000000001" ry="11.600000000000001" fill="#000" opacity="0.16"/><ellipse cx="973.6" cy="270.8" rx="9.4" ry="9.4" fill="url(#gb81)"/><ellipse cx="910.8" cy="305.5" rx="8.4" ry="8.4" fill="url(#gb79)"/><ellipse cx="945.5" cy="262" rx="9.600000000000001" ry="9.600000000000001" fill="#000" opacity="0.16"/><ellipse cx="945.5" cy="262" rx="7.4" ry="7.4" fill="url(#gb81)"/><ellipse cx="1008.3" cy="312" rx="11.600000000000001" ry="11.600000000000001" fill="#000" opacity="0.16"/><ellipse cx="1008.3" cy="312" rx="9.4" ry="9.4" fill="url(#gb83)"/><ellipse cx="893.5" cy="279.5" rx="10.600000000000001" ry="10.600000000000001" fill="#000" opacity="0.16"/><ellipse cx="893.5" cy="279.5" rx="8.4" ry="8.4" fill="url(#gb81)"/><ellipse cx="1010.5" cy="249" rx="10.600000000000001" ry="10.600000000000001" fill="#000" opacity="0.16"/><ellipse cx="1010.5" cy="249" rx="8.4" ry="8.4" fill="url(#gb81)"/><ellipse cx="1075" cy="273" rx="10.600000000000001" ry="10.600000000000001" fill="#000" opacity="0.16"/><ellipse cx="1075" cy="273" rx="8.4" ry="8.4" fill="url(#gb87)"/><ellipse cx="948" cy="296" rx="10.600000000000001" ry="10.600000000000001" fill="#000" opacity="0.16"/><ellipse cx="948" cy="296" rx="8.4" ry="8.4" fill="url(#gb81)"/><ellipse cx="1000" cy="305" rx="10.600000000000001" ry="10.600000000000001" fill="#000" opacity="0.16"/><ellipse cx="1000" cy="305" rx="8.4" ry="8.4" fill="url(#gb83)"/><ellipse cx="900" cy="216.7" rx="15.4" ry="15.4" fill="url(#gb79)"/><ellipse cx="930.3" cy="221" rx="18.599999999999998" ry="18.599999999999998" fill="#000" opacity="0.16"/><ellipse cx="930.3" cy="221" rx="16.4" ry="16.4" fill="url(#gb86)"/><ellipse cx="982.3" cy="216.7" rx="13.4" ry="13.4" fill="url(#gb77)"/><ellipse cx="958.5" cy="227.5" rx="21.599999999999998" ry="21.599999999999998" fill="#000" opacity="0.16"/><ellipse cx="958.5" cy="227.5" rx="19.4" ry="19.4" fill="url(#gb82)"/><ellipse cx="1027.8" cy="214.5" rx="17.6" ry="17.6" fill="#000" opacity="0.16"/><ellipse cx="1027.8" cy="214.5" rx="15.4" ry="15.4" fill="url(#gb80)"/><ellipse cx="1066.8" cy="216.7" rx="13.600000000000001" ry="13.600000000000001" fill="#000" opacity="0.16"/><ellipse cx="1066.8" cy="216.7" rx="11.4" ry="11.4" fill="url(#gb82)"/><ellipse cx="1004" cy="229.7" rx="19.599999999999998" ry="19.599999999999998" fill="#000" opacity="0.16"/><ellipse cx="1004" cy="229.7" rx="17.4" ry="17.4" fill="url(#gb86)"/><ellipse cx="1048.4" cy="236.2" rx="19.599999999999998" ry="19.599999999999998" fill="#000" opacity="0.16"/><ellipse cx="1048.4" cy="236.2" rx="17.4" ry="17.4" fill="url(#gb96)"/><ellipse cx="1066.8" cy="251.3" rx="17.6" ry="17.6" fill="#000" opacity="0.16"/><ellipse cx="1066.8" cy="251.3" rx="15.4" ry="15.4" fill="url(#gb93)"/><ellipse cx="1069" cy="290.3" rx="13.4" ry="13.4" fill="url(#gb70)"/><ellipse cx="1066.8" cy="325" rx="13.4" ry="13.4" fill="url(#gb63)"/><ellipse cx="1051.6" cy="307.6" rx="19.9" ry="19.9" fill="url(#gb65)"/><ellipse cx="1038.6" cy="325" rx="19.9" ry="19.9" fill="url(#gb63)"/><ellipse cx="1017" cy="320.6" rx="9.4" ry="9.4" fill="url(#gb74)"/><ellipse cx="982.3" cy="249.2" rx="18.799999999999997" ry="18.799999999999997" fill="#000" opacity="0.16"/><ellipse cx="982.3" cy="249.2" rx="16.599999999999998" ry="16.599999999999998" fill="url(#gb94)"/><ellipse cx="1004" cy="266.5" rx="12.600000000000001" ry="12.600000000000001" fill="#000" opacity="0.16"/><ellipse cx="1004" cy="266.5" rx="10.4" ry="10.4" fill="url(#gb87)"/><ellipse cx="933.6" cy="251.3" rx="18.799999999999997" ry="18.799999999999997" fill="#000" opacity="0.16"/><ellipse cx="933.6" cy="251.3" rx="16.599999999999998" ry="16.599999999999998" fill="url(#gb96)"/><ellipse cx="1051.6" cy="270.8" rx="20.999999999999996" ry="20.999999999999996" fill="#000" opacity="0.16"/><ellipse cx="1051.6" cy="270.8" rx="18.799999999999997" ry="18.799999999999997" fill="url(#gb102)"/><ellipse cx="890" cy="266" rx="9.600000000000001" ry="9.600000000000001" fill="#000" opacity="0.16"/><ellipse cx="890" cy="266" rx="7.4" ry="7.4" fill="url(#gb102)"/><ellipse cx="889.5" cy="236.2" rx="17.6" ry="17.6" fill="#000" opacity="0.16"/><ellipse cx="889.5" cy="236.2" rx="15.4" ry="15.4" fill="url(#gb111)"/><ellipse cx="907.6" cy="262.1" rx="19.9" ry="19.9" fill="#000" opacity="0.16"/><ellipse cx="907.6" cy="262.1" rx="17.7" ry="17.7" fill="url(#gb104)"/><ellipse cx="947.6" cy="312" rx="13.600000000000001" ry="13.600000000000001" fill="#000" opacity="0.16"/><ellipse cx="947.6" cy="312" rx="11.4" ry="11.4" fill="url(#gb91)"/><ellipse cx="962.8" cy="331.5" rx="15.600000000000001" ry="15.600000000000001" fill="#000" opacity="0.16"/><ellipse cx="962.8" cy="331.5" rx="13.4" ry="13.4" fill="url(#gb96)"/><ellipse cx="956.3" cy="275.1" rx="20.999999999999996" ry="20.999999999999996" fill="#000" opacity="0.16"/><ellipse cx="956.3" cy="275.1" rx="18.799999999999997" ry="18.799999999999997" fill="url(#gb100)"/><ellipse cx="930.3" cy="290.3" rx="20.999999999999996" ry="20.999999999999996" fill="#000" opacity="0.16"/><ellipse cx="930.3" cy="290.3" rx="18.799999999999997" ry="18.799999999999997" fill="url(#gb102)"/><ellipse cx="903.2" cy="294.6" rx="17.8" ry="17.8" fill="#000" opacity="0.16"/><ellipse cx="903.2" cy="294.6" rx="15.6" ry="15.6" fill="url(#gb107)"/><ellipse cx="898.9" cy="325" rx="17.8" ry="17.8" fill="#000" opacity="0.16"/><ellipse cx="898.9" cy="325" rx="15.6" ry="15.6" fill="url(#gb98)"/><ellipse cx="923.8" cy="320.6" rx="17.8" ry="17.8" fill="#000" opacity="0.16"/><ellipse cx="923.8" cy="320.6" rx="15.6" ry="15.6" fill="url(#gb104)"/><ellipse cx="994.2" cy="288.1" rx="20.999999999999996" ry="20.999999999999996" fill="#000" opacity="0.16"/><ellipse cx="994.2" cy="288.1" rx="18.799999999999997" ry="18.799999999999997" fill="url(#gb104)"/><ellipse cx="1022.4" cy="294.6" rx="20.999999999999996" ry="20.999999999999996" fill="#000" opacity="0.16"/><ellipse cx="1022.4" cy="294.6" rx="18.799999999999997" ry="18.799999999999997" fill="url(#gb106)"/><ellipse cx="995.3" cy="325" rx="20.999999999999996" ry="20.999999999999996" fill="#000" opacity="0.16"/><ellipse cx="995.3" cy="325" rx="18.799999999999997" ry="18.799999999999997" fill="url(#gb107)"/><ellipse cx="1025.6" cy="257.8" rx="18.799999999999997" ry="18.799999999999997" fill="#000" opacity="0.16"/><ellipse cx="1025.6" cy="257.8" rx="16.599999999999998" ry="16.599999999999998" fill="url(#gb109)"/><ellipse cx="973.6" cy="309.8" rx="17.8" ry="17.8" fill="#000" opacity="0.16"/><ellipse cx="973.6" cy="309.8" rx="15.6" ry="15.6" fill="url(#gb111)"/></g>
<rect x="887" y="338.40000000000003" width="188.2" height="9.4" fill="#060606"/>
<line x1="887" y1="338.6" x2="1075.2" y2="338.6" stroke="#9a9a9a" stroke-width="0.4"/>
<g class="semi">
<text x="914.5" y="342.00000000000006">EHT = 15.00 kV</text><text x="914.5" y="346.1">WD = 9.1 mm</text>
<text x="946" y="342.00000000000006">Signal A = SE2</text><text x="946" y="346.1">Mag = 20.00 K X</text>
<text x="979" y="342.00000000000006">System Vacuum = 5.27e-006 mbar</text><text x="979" y="346.1">Gun Vacuum = 2.54e-009 mbar</text>
<text x="1029.5" y="342.00000000000006">Aperture Size = 30.00 µm</text><text x="1029.5" y="346.1">Date: 28 Apr 2022  Time: 16:14:28</text>
<text x="888.2" y="344.00000000000006">200 nm</text>
<text x="1066" y="342.00000000000006">ZEISS</text>
<line x1="887.8" y1="346.8" x2="895.6" y2="346.8" stroke="#3c9a3c" stroke-width="0.7"/>
</g>
</g>
<text x="979.1" y="236.3" font-size="22.8" text-anchor="middle" style="fill:#fff;stroke:none">PI/SSL 30 min</text>
<clipPath id="clip3"><rect x="885.2" y="370.2" width="189.8" height="141.2"/></clipPath>
<g clip-path="url(#clip3)">
<rect x="885" y="370" width="190" height="142" fill="url(#bg3)"/>
<g filter="url(#soft)"><ellipse cx="1016" cy="380" rx="12" ry="12" fill="url(#gc46)"/><ellipse cx="1040" cy="392" rx="13" ry="13" fill="url(#gc40)"/><ellipse cx="1062" cy="384" rx="11" ry="11" fill="url(#gc36)"/><ellipse cx="1056" cy="412" rx="14" ry="14" fill="url(#gc38)"/><ellipse cx="1030" cy="415" rx="11" ry="11" fill="url(#gc43)"/><ellipse cx="1068" cy="432" rx="10" ry="10" fill="url(#gc41)"/><ellipse cx="1055.3" cy="447.4" rx="12" ry="12" fill="url(#gc48)"/><ellipse cx="1068" cy="470" rx="9" ry="9" fill="url(#gc43)"/><ellipse cx="1051" cy="489" rx="10" ry="10" fill="url(#gc46)"/><ellipse cx="1003" cy="493.3" rx="11" ry="11" fill="url(#gc60)"/><ellipse cx="1068.4" cy="493.3" rx="9" ry="9" fill="url(#gc72)"/><ellipse cx="1009.5" cy="454" rx="9" ry="9" fill="url(#gc49)"/><ellipse cx="898" cy="377.5" rx="9" ry="9" fill="url(#gc68)"/><ellipse cx="922.1" cy="375.4" rx="22.2" ry="10.2" fill="#000" opacity="0.14"/><ellipse cx="922.1" cy="375.4" rx="20" ry="8" fill="url(#gc119)"/><ellipse cx="978.9" cy="377.5" rx="24.2" ry="11.2" fill="#000" opacity="0.14"/><ellipse cx="978.9" cy="377.5" rx="22" ry="9" fill="url(#gc104)"/><ellipse cx="959.2" cy="392.8" rx="17.2" ry="17.2" fill="#000" opacity="0.14"/><ellipse cx="959.2" cy="392.8" rx="15" ry="15" fill="url(#gc96)"/><ellipse cx="987.6" cy="397.2" rx="13.2" ry="13.2" fill="#000" opacity="0.14"/><ellipse cx="987.6" cy="397.2" rx="11" ry="11" fill="url(#gc89)"/><ellipse cx="1016" cy="425.6" rx="13" ry="13" fill="url(#gc72)"/><ellipse cx="1033.5" cy="447.4" rx="13" ry="13" fill="url(#gc70)"/><ellipse cx="1046.6" cy="467" rx="13.2" ry="13.2" fill="#000" opacity="0.14"/><ellipse cx="1046.6" cy="467" rx="11" ry="11" fill="url(#gc83)"/><ellipse cx="913.4" cy="403.7" rx="15.2" ry="15.2" fill="#000" opacity="0.14"/><ellipse cx="913.4" cy="403.7" rx="13" ry="13" fill="url(#gc111)"/><ellipse cx="939.6" cy="408.1" rx="14.7" ry="14.7" fill="#000" opacity="0.14"/><ellipse cx="939.6" cy="408.1" rx="12.5" ry="12.5" fill="url(#gc119)"/><ellipse cx="922.1" cy="425.6" rx="16.2" ry="16.2" fill="#000" opacity="0.14"/><ellipse cx="922.1" cy="425.6" rx="14" ry="14" fill="url(#gc107)"/><ellipse cx="948.3" cy="434.3" rx="14.2" ry="14.2" fill="#000" opacity="0.14"/><ellipse cx="948.3" cy="434.3" rx="12" ry="12" fill="url(#gc102)"/><ellipse cx="994.2" cy="427.8" rx="16.2" ry="16.2" fill="#000" opacity="0.14"/><ellipse cx="994.2" cy="427.8" rx="14" ry="14" fill="url(#gc89)"/><ellipse cx="976.7" cy="445.2" rx="14.2" ry="14.2" fill="#000" opacity="0.14"/><ellipse cx="976.7" cy="445.2" rx="12" ry="12" fill="url(#gc86)"/><ellipse cx="909" cy="495.5" rx="11" ry="11" fill="url(#gc76)"/><ellipse cx="939.6" cy="489" rx="17.2" ry="17.2" fill="#000" opacity="0.14"/><ellipse cx="939.6" cy="489" rx="15" ry="15" fill="url(#gc84)"/><ellipse cx="972.3" cy="491" rx="17.2" ry="17.2" fill="#000" opacity="0.14"/><ellipse cx="972.3" cy="491" rx="15" ry="15" fill="url(#gc81)"/><ellipse cx="968" cy="467" rx="14.2" ry="14.2" fill="#000" opacity="0.14"/><ellipse cx="968" cy="467" rx="12" ry="12" fill="url(#gc89)"/><ellipse cx="987.6" cy="467" rx="15.2" ry="15.2" fill="#000" opacity="0.14"/><ellipse cx="987.6" cy="467" rx="13" ry="13" fill="url(#gc92)"/><ellipse cx="939.6" cy="462.7" rx="15.2" ry="15.2" fill="#000" opacity="0.14"/><ellipse cx="939.6" cy="462.7" rx="13" ry="13" fill="url(#gc102)"/><ellipse cx="924.3" cy="449.6" rx="14.2" ry="17.2" fill="#000" opacity="0.14"/><ellipse cx="924.3" cy="449.6" rx="12" ry="15" fill="url(#gc108)"/><ellipse cx="913.4" cy="473.6" rx="12.2" ry="18.2" fill="#000" opacity="0.14"/><ellipse cx="913.4" cy="473.6" rx="10" ry="16" fill="url(#gc105)"/><ellipse cx="896" cy="412" rx="15.7" ry="34.2" fill="#000" opacity="0.14"/><ellipse cx="896" cy="412" rx="13.5" ry="32" fill="url(#gc130)"/><ellipse cx="887" cy="421" rx="8.2" ry="16.2" fill="#000" opacity="0.14"/><ellipse cx="887" cy="421" rx="6" ry="14" fill="url(#gc148)"/><ellipse cx="973.4" cy="420.1" rx="23.2" ry="12.2" fill="#000" opacity="0.14" transform="rotate(-41 973.4 420.1)"/><ellipse cx="973.4" cy="420.1" rx="21" ry="10" fill="url(#gc128)" transform="rotate(-41 973.4 420.1)"/><ellipse cx="1024.7" cy="480.2" rx="16.2" ry="20.7" fill="#000" opacity="0.14"/><ellipse cx="1024.7" cy="480.2" rx="14" ry="18.5" fill="url(#gc92)"/><ellipse cx="893.7" cy="473.6" rx="16.2" ry="24.2" fill="#000" opacity="0.14"/><ellipse cx="893.7" cy="473.6" rx="14" ry="22" fill="url(#gc152)"/></g>
<rect x="885.2" y="502.0" width="189.8" height="9.4" fill="#060606"/>
<line x1="885.2" y1="502.2" x2="1075.0" y2="502.2" stroke="#9a9a9a" stroke-width="0.4"/>
<g class="semi">
<text x="912.7" y="505.6">EHT = 15.00 kV</text><text x="912.7" y="509.7">WD = 9.1 mm</text>
<text x="944.2" y="505.6">Signal A = SE2</text><text x="944.2" y="509.7">Mag = 20.00 K X</text>
<text x="977.2" y="505.6">System Vacuum = 5.30e-006 mbar</text><text x="977.2" y="509.7">Gun Vacuum = 2.53e-009 mbar</text>
<text x="1027.7" y="505.6">Aperture Size = 30.00 µm</text><text x="1027.7" y="509.7">Date: 28 Apr 2022  Time: 16:19:54</text>
<text x="886.4000000000001" y="507.6">200 nm</text>
<text x="1064.2" y="505.6">ZEISS</text>
<line x1="886.0" y1="510.4" x2="893.8000000000001" y2="510.4" stroke="#3c9a3c" stroke-width="0.7"/>
</g>
</g>
<text x="981.1" y="396.7" font-size="22.8" text-anchor="middle" style="fill:#fff;stroke:none">PI/SSL 60 min</text>
</g>
</svg>
</body>
</html>
